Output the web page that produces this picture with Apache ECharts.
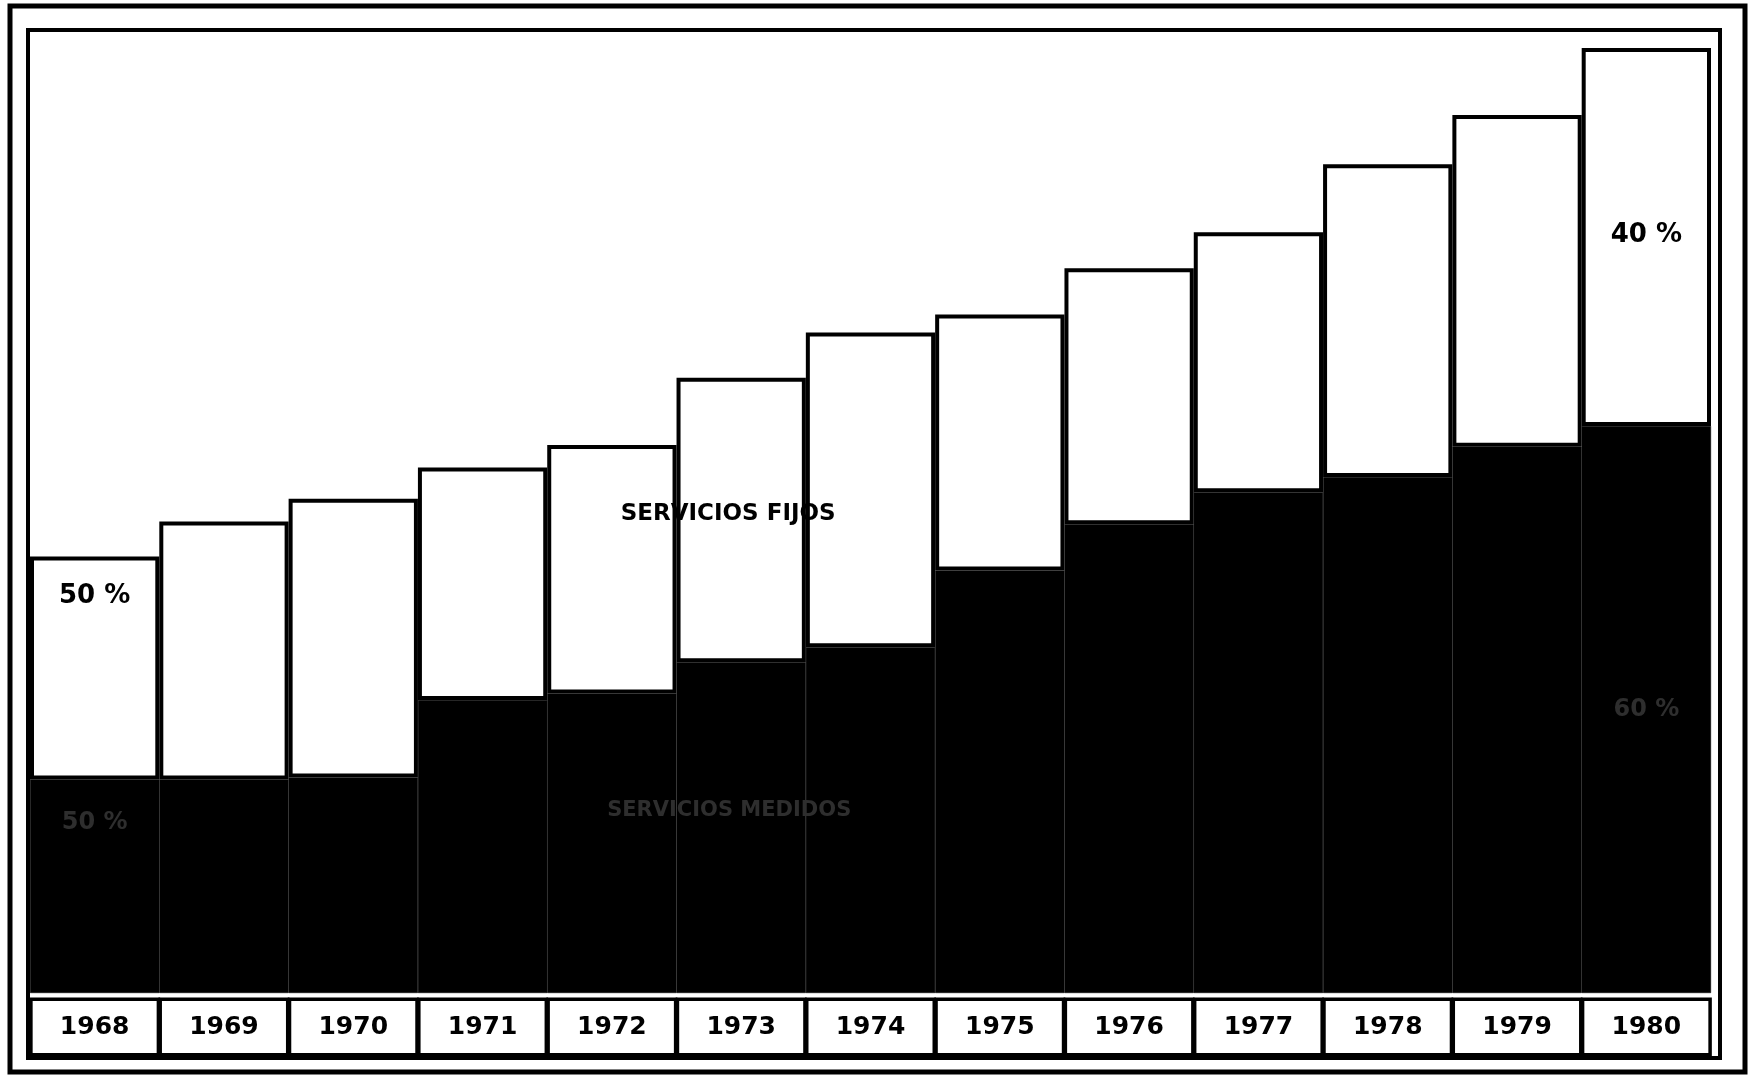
<!DOCTYPE html>
<html>
<head>
<meta charset="utf-8">
<script src="https://cdn.jsdelivr.net/npm/echarts@6/dist/echarts.min.js"></script>
<style>
html,body{margin:0;padding:0;background:#fff;}
#c{width:1753px;height:1077px;}
</style>
</head>
<body>
<div id="c"></div>
<script>
// Categories (years)
const years = ['1968','1969','1970','1971','1972','1973','1974','1975','1976','1977','1978','1979','1980'];
// Bottom (black) segment – relative units (1980 total = 100)
const serviciosMedidos = [22.6, 22.6, 22.8, 31.0, 31.7, 35.0, 36.6, 44.7, 49.6, 53.0, 54.6, 57.8, 60.0];
// Top (white) segment
const serviciosFijos = [23.6, 27.3, 29.5, 24.6, 26.3, 30.1, 33.3, 27.1, 27.1, 27.5, 33.1, 35.1, 40.0];
// Text labels
const labelFijos = 'SERVICIOS FIJOS';
const labelMedidos = 'SERVICIOS MEDIDOS';
const pctStartFijos = '50 %', pctEndFijos = '40 %';
const pctStartMedidos = '50 %', pctEndMedidos = '60 %';

const FONT = '"DejaVu Sans", sans-serif';
const chart = echarts.init(document.getElementById('c'), null, {renderer: 'canvas'});

const bigLabel = {show: true, position: 'inside', fontFamily: FONT, fontWeight: 'bold', fontSize: 26, color: '#000'};
const darkLabel = {show: true, position: 'inside', fontFamily: FONT, fontWeight: 'bold', fontSize: 24, color: '#2e2e2e'};

const blackData = serviciosMedidos.map((v, i) => {
  const d = {value: v};
  if (i === 0) d.label = Object.assign({}, darkLabel, {formatter: pctStartMedidos, offset: [0, -63]});
  if (i === 5) d.label = Object.assign({}, darkLabel, {formatter: labelMedidos, offset: [-12, -17], fontSize: 21});
  if (i === years.length - 1) d.label = Object.assign({}, darkLabel, {formatter: pctEndMedidos, offset: [0, 0]});
  return d;
});
const whiteData = serviciosFijos.map((v, i) => {
  const d = {value: v};
  if (i === 0) d.label = Object.assign({}, bigLabel, {formatter: pctStartFijos, offset: [0, -72]});
  if (i === 5) d.label = Object.assign({}, bigLabel, {formatter: labelFijos, offset: [-13, -6], fontSize: 23});
  if (i === years.length - 1) d.label = Object.assign({}, bigLabel, {formatter: pctEndFijos, offset: [0, -2]});
  return d;
});

chart.setOption({
  animation: false,
  backgroundColor: '#fff',
  grid: {left: 30, right: 42, top: 48, bottom: 84, containLabel: false},
  xAxis: {
    type: 'category',
    data: years,
    axisLine: {show: false},
    axisTick: {show: false},
    splitLine: {show: false},
    axisLabel: {
      interval: 0,
      margin: 8,
      formatter: v => '{b|' + v + '}',
      rich: {
        b: {
          width: 124, height: 52, lineHeight: 52, align: 'center',
          backgroundColor: '#fff', borderColor: '#000', borderWidth: 3.5,
          fontFamily: FONT, fontWeight: 'bold', fontSize: 25, color: '#000'
        }
      }
    }
  },
  yAxis: {type: 'value', min: 0, max: 100, show: false, splitLine: {show: false}},
  series: [
    {
      name: labelMedidos, type: 'bar', stack: 'total',
      barCategoryGap: 0, barGap: 0,
      itemStyle: {color: '#000', borderColor: '#000', borderWidth: 0.5},
      data: blackData
    },
    {
      name: labelFijos, type: 'bar', stack: 'total',
      barCategoryGap: 0, barGap: 0,
      itemStyle: {color: '#fff', borderColor: '#000', borderWidth: 4},
      data: whiteData
    }
  ],
  graphic: [
    {type: 'rect', z: 100, shape: {x: 10, y: 6, width: 1735, height: 1066}, style: {fill: 'none', stroke: '#000', lineWidth: 5}},
    {type: 'rect', z: 100, shape: {x: 28, y: 30, width: 1692, height: 1028}, style: {fill: 'none', stroke: '#000', lineWidth: 4}}
  ]
});
</script>
</body>
</html>
